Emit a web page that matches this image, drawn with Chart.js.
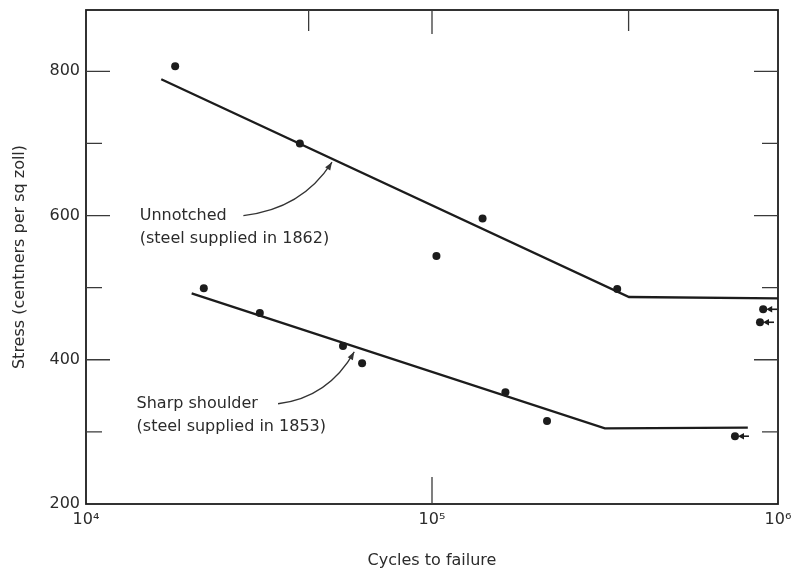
<!DOCTYPE html>
<html>
<head>
<meta charset="utf-8">
<script src="https://cdn.jsdelivr.net/npm/chart.js@4/dist/chart.umd.min.js"></script>
<style>
  html, body { margin: 0; padding: 0; background: #fff; }
  #wrap { width: 795px; height: 570px; position: relative; }
</style>
</head>
<body>
<div id="wrap"><canvas id="sn"></canvas></div>
<script>
// S-N diagram: stress against cycles to failure (log axis)
const xTicks      = [1e4, 1e5, 1e6];
const xTickLabels = ['10⁴', '10⁵', '10⁶'];
const yTicks      = [200, 400, 600, 800];
const yMinor      = [300, 500, 700];
const topMarks    = [4.4e4, 1e5, 3.7e5];
const bottomMarks = [1e5];

// unnotched, steel supplied in 1862
const unnotchedCycles    = [1.81e4, 4.15e4, 1.03e5, 1.40e5, 3.43e5];
const unnotchedStress    = [807, 700, 544, 596, 498];
const unnotchedRunCycles = [9.06e5, 8.87e5];
const unnotchedRunStress = [470, 452];
const unnotchedFitCycles = [1.65e4, 3.71e5, 1e6];
const unnotchedFitStress = [789, 487, 485];

// sharp shoulder, steel supplied in 1853
const sharpCycles    = [2.19e4, 3.18e4, 5.53e4, 6.28e4, 1.63e5, 2.15e5];
const sharpStress    = [499, 465, 419, 395, 355, 315];
const sharpRunCycles = [7.51e5];
const sharpRunStress = [294];
const sharpFitCycles = [2.02e4, 3.16e5, 8.18e5];
const sharpFitStress = [492, 305, 306];

// labels with curved pointer: text anchor, pointer start, pointer tip (data units)
const notes = [
  { lines: ['Unnotched', '(steel supplied in 1862)'],      at: [1.43e4, 600], from: [2.85e4, 600], to: [5.14e4, 674] },
  { lines: ['Sharp shoulder', '(steel supplied in 1853)'], at: [1.40e4, 339], from: [3.59e4, 339], to: [5.96e4, 411] }
];

const INK = '#1c1c1c';
const TXT = '#2b2b2b';
const FONT = { family: 'DejaVu Sans', size: 16 };

const pts = (xs, ys) => xs.map((x, i) => ({ x, y: ys[i] }));

const fitStyle = { showLine: true, borderColor: INK, borderWidth: 2.3, pointRadius: 0, fill: false, tension: 0 };
const dotStyle = { showLine: false, pointRadius: 4, pointBackgroundColor: INK, pointBorderWidth: 0 };

// frame, inward tick marks, run-out arrows and the notes
const decor = {
  id: 'decor',
  afterDatasetsDraw(chart) {
    const { ctx, chartArea: a, scales: { x, y } } = chart;
    ctx.save();
    ctx.strokeStyle = INK;
    ctx.lineWidth = 1.8;
    ctx.strokeRect(a.left, a.top, a.right - a.left, a.bottom - a.top);

    ctx.lineWidth = 1.3;
    ctx.strokeStyle = '#3a3a3a';
    [...yTicks.slice(1), ...yMinor].forEach(v => {
      const py = y.getPixelForValue(v);
      const len = yTicks.includes(v) ? 24 : 16;
      ctx.beginPath();
      ctx.moveTo(a.left, py); ctx.lineTo(a.left + len, py);
      ctx.moveTo(a.right, py); ctx.lineTo(a.right - len, py);
      ctx.stroke();
    });
    topMarks.forEach(v => {
      const px = x.getPixelForValue(v);
      ctx.beginPath(); ctx.moveTo(px, a.top); ctx.lineTo(px, a.top + (v === 1e5 ? 24 : 21)); ctx.stroke();
    });
    bottomMarks.forEach(v => {
      const px = x.getPixelForValue(v);
      ctx.beginPath(); ctx.moveTo(px, a.bottom); ctx.lineTo(px, a.bottom - 27); ctx.stroke();
    });

    // run-outs: short pointer beside the dot
    chart.data.datasets.forEach((ds, i) => {
      if (!ds.runout) return;
      chart.getDatasetMeta(i).data.forEach(el => {
        ctx.strokeStyle = INK; ctx.fillStyle = INK; ctx.lineWidth = 1.6;
        ctx.beginPath(); ctx.moveTo(el.x + 7, el.y); ctx.lineTo(el.x + 14, el.y); ctx.stroke();
        ctx.beginPath(); ctx.moveTo(el.x + 3, el.y); ctx.lineTo(el.x + 9, el.y - 3.2); ctx.lineTo(el.x + 9, el.y + 3.2); ctx.closePath(); ctx.fill();
      });
    });

    // notes with curved pointers
    ctx.font = `${FONT.size}px "${FONT.family}"`;
    ctx.fillStyle = TXT;
    ctx.textBaseline = 'middle';
    ctx.textAlign = 'left';
    notes.forEach(n => {
      const tx = x.getPixelForValue(n.at[0]), ty = y.getPixelForValue(n.at[1]);
      n.lines.forEach((t, k) => ctx.fillText(t, tx, ty + k * 23));
      const sx = x.getPixelForValue(n.from[0]), sy = y.getPixelForValue(n.from[1]);
      const ex = x.getPixelForValue(n.to[0]),   ey = y.getPixelForValue(n.to[1]);
      const cx = sx + 0.66 * (ex - sx), cy = sy + 0.12 * (ey - sy);
      ctx.strokeStyle = '#333'; ctx.lineWidth = 1.3;
      ctx.beginPath(); ctx.moveTo(sx, sy); ctx.quadraticCurveTo(cx, cy, ex, ey); ctx.stroke();
      const ang = Math.atan2(ey - cy, ex - cx);
      ctx.fillStyle = '#333';
      ctx.beginPath();
      ctx.moveTo(ex, ey);
      ctx.lineTo(ex - 8 * Math.cos(ang) + 3 * Math.sin(ang), ey - 8 * Math.sin(ang) - 3 * Math.cos(ang));
      ctx.lineTo(ex - 8 * Math.cos(ang) - 3 * Math.sin(ang), ey - 8 * Math.sin(ang) + 3 * Math.cos(ang));
      ctx.closePath(); ctx.fill();
      ctx.fillStyle = TXT;
    });
    ctx.restore();
  }
};

new Chart(document.getElementById('sn'), {
  type: 'scatter',
  data: {
    datasets: [
      { label: 'Unnotched fit', data: pts(unnotchedFitCycles, unnotchedFitStress), ...fitStyle },
      { label: 'Sharp shoulder fit', data: pts(sharpFitCycles, sharpFitStress), ...fitStyle },
      { label: 'Unnotched', data: pts(unnotchedCycles, unnotchedStress), ...dotStyle },
      { label: 'Unnotched run-out', data: pts(unnotchedRunCycles, unnotchedRunStress), ...dotStyle, runout: true },
      { label: 'Sharp shoulder', data: pts(sharpCycles, sharpStress), ...dotStyle },
      { label: 'Sharp shoulder run-out', data: pts(sharpRunCycles, sharpRunStress), ...dotStyle, runout: true }
    ]
  },
  options: {
    responsive: true,
    maintainAspectRatio: false,
    animation: false,
    layout: { padding: { top: 10, right: 17, left: 0, bottom: 0 } },
    plugins: { legend: { display: false }, tooltip: { enabled: false } },
    scales: {
      x: {
        type: 'logarithmic',
        min: 1e4, max: 1e6,
        grid: { display: false, drawTicks: false },
        border: { display: false },
        afterBuildTicks: s => { s.ticks = xTicks.map(v => ({ value: v })); },
        afterFit: s => { s.height = 66; s.paddingLeft = 0; s.paddingRight = 0; },
        ticks: {
          autoSkip: false, maxRotation: 0, padding: 6,
          font: FONT, color: TXT,
          callback: v => { const i = xTicks.indexOf(v); return i < 0 ? '' : xTickLabels[i]; }
        },
        title: { display: true, text: 'Cycles to failure', font: FONT, color: TXT, padding: { top: 0, bottom: 0 } }
      },
      y: {
        min: 200, max: 885,
        grid: { display: false, drawTicks: false },
        border: { display: false },
        afterBuildTicks: s => { s.ticks = yTicks.map(v => ({ value: v })); },
        afterFit: s => { s.width = 86; s.paddingTop = 0; s.paddingBottom = 0; },
        ticks: { padding: 6, font: FONT, color: TXT },
        title: { display: true, text: 'Stress (centners per sq zoll)', font: FONT, color: TXT, padding: { top: 10, bottom: 0 } }
      }
    }
  },
  plugins: [decor]
});
</script>
</body>
</html>
